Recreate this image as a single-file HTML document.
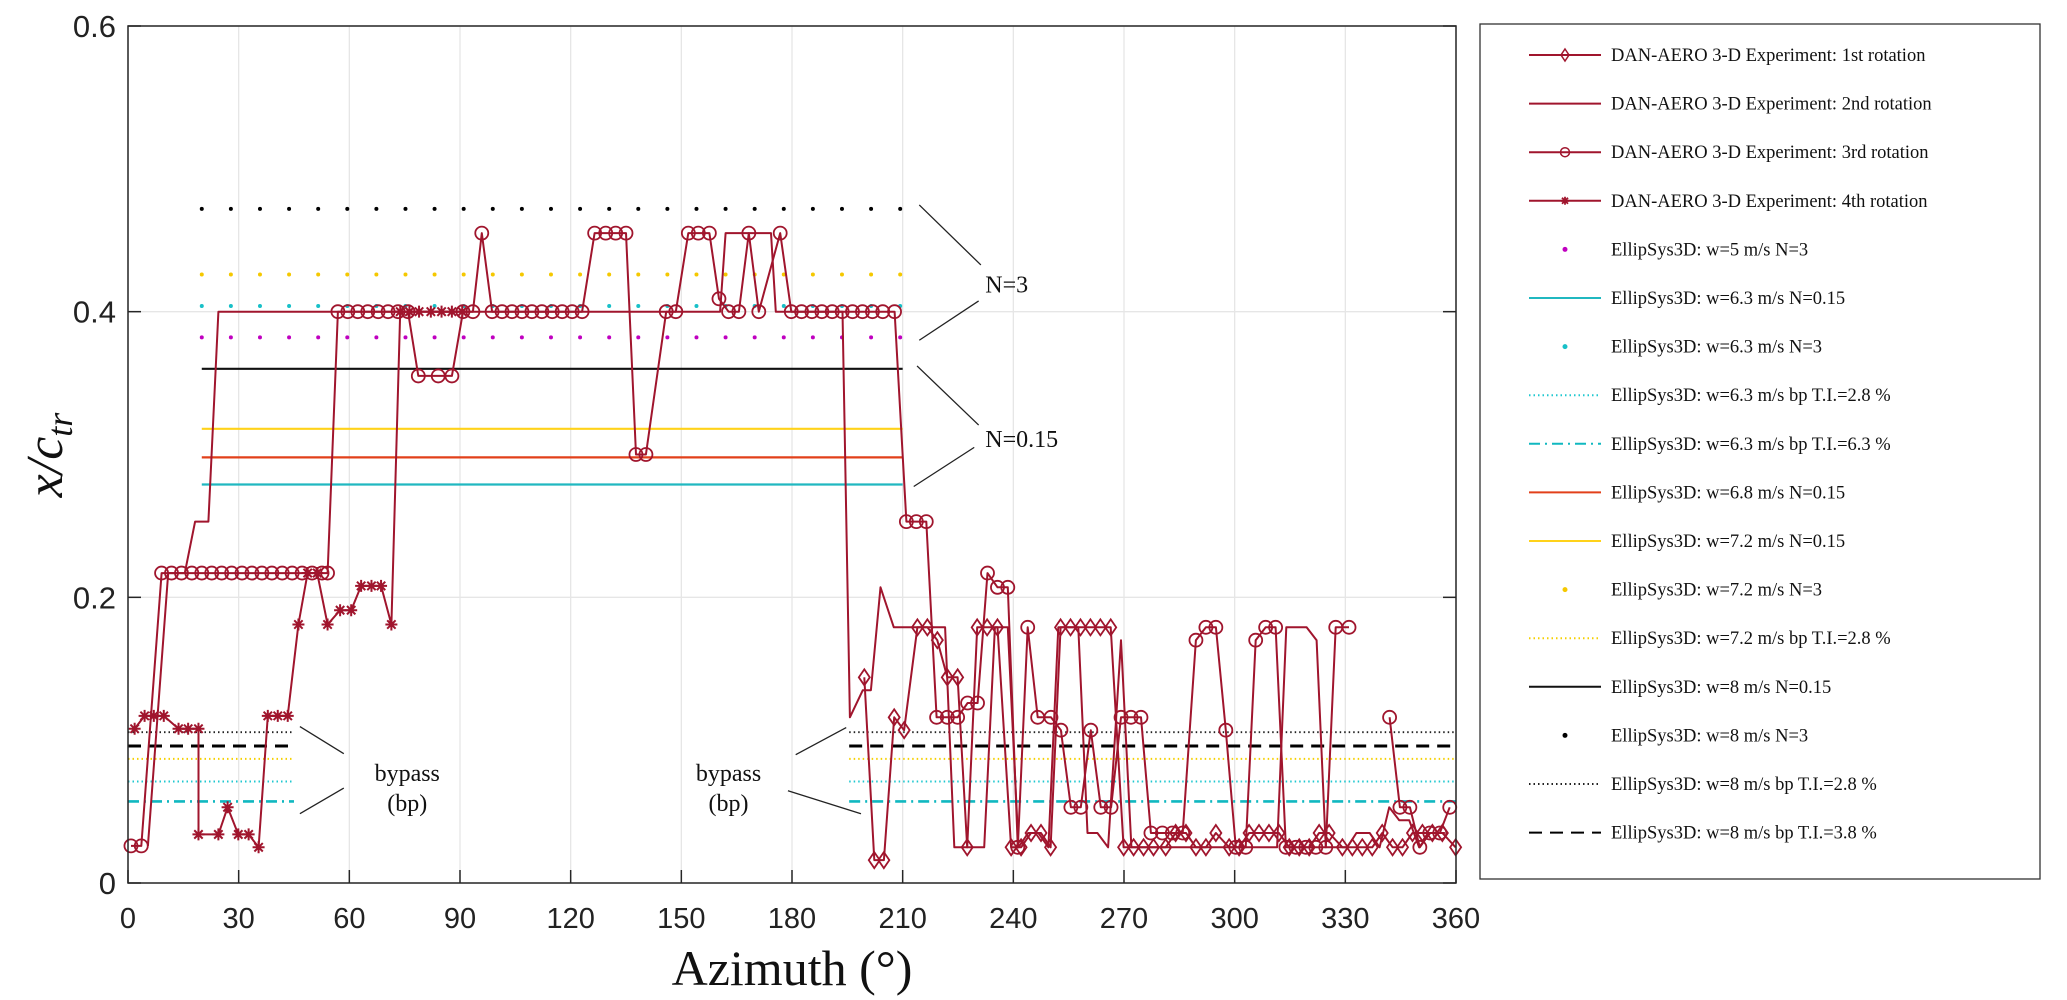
<!DOCTYPE html>
<html><head><meta charset="utf-8"><style>
body{margin:0;background:#fff;width:2067px;height:1000px;overflow:hidden}
svg{display:block}
</style></head><body>
<svg id="chart" xmlns="http://www.w3.org/2000/svg" width="2067" height="1000" viewBox="0 0 2067 1000"></svg>
<script>
// ---- data ----
const xTicks=[0,30,60,90,120,150,180,210,240,270,300,330,360];
const yTicks=[0,0.2,0.4,0.6];
const yTickLabels=["0","0.2","0.4","0.6"];
// rotation 1 (diamonds)
const r1x=[199.6,202.3,204.9,207.7,210.4,214,216.7,219.4,222.1,224.9,227.5,230.2,232.9,235.7,239.4,242.1,244.8,247.5,250.1,252.8,255.5,258.2,260.9,263.6,266.4,269.9,272.6,275.3,278,281.3,284,286.8,289.5,292.2,294.9,298.5,301.2,303.9,306.6,309.3,312,314.8,317.5,320.2,322.9,325.6,329.2,331.9,334.6,337.3,340,342.8,345.5,348.2,350.9,353.6,356.3,359.9];
const r1y=[.144,.016,.016,.116,.107,.179,.179,.170,.144,.144,.025,.179,.179,.179,.025,.025,.035,.035,.025,.179,.179,.179,.179,.179,.179,.025,.025,.025,.025,.025,.035,.035,.025,.025,.035,.025,.025,.035,.035,.035,.035,.025,.025,.025,.035,.035,.025,.025,.025,.025,.035,.025,.025,.035,.035,.035,.035,.025];
// rotation 2 (line)
const r2x=[5.4,10.9,15.4,18.2,21.8,24.5,160.5,162,174.3,175.6,193.7,195.7,199.2,201.4,204,207.6,221.5,224,232.1,235,238.5,241.4,244,246.8,249.5,252.2,257.6,260.1,262.8,265.7,269.2,272,311.5,314,319.5,322.2,324.7,330.5,333,336.6,339.3,341.9,344.6,347.3,350,353,357];
const r2y=[.026,.217,.217,.253,.253,.4,.4,.455,.455,.4,.4,.116,.135,.135,.207,.179,.179,.025,.025,.179,.179,.025,.035,.035,.025,.179,.179,.035,.035,.025,.170,.025,.025,.179,.179,.170,.025,.025,.035,.035,.025,.053,.044,.044,.025,.035,.035];
// rotation 3 (circles); null = gap
const r3x=[0.8,3.6,9.1,11.8,14.5,17.3,20,22.7,25.4,28.1,30.9,33.6,36.3,39,41.8,44.5,47.2,49.9,52.6,54.1,56.9,59.6,62.3,65,67.8,70.5,73.2,75.9,78.7,84.1,87.8,90.8,93.5,95.9,98.7,101.4,104.1,106.8,109.5,112.2,115,117.7,120.4,123.1,126.5,129.5,132.2,135,137.7,140.4,145.9,148.5,151.9,154.6,157.6,160.2,162.8,165.6,168.3,171,176.8,179.8,182.6,185.4,188.1,190.9,193.6,196.4,199.1,201.8,204.6,207.8,211,213.7,216.4,219.2,222.1,224.9,227.6,230.3,233,235.7,238.5,241.2,243.9,246.6,250.2,252.9,255.6,258.3,261,263.7,266.5,269.2,271.9,274.6,277.3,280.4,283.1,285.9,289.5,292.2,294.9,297.6,300.3,303,305.7,308.4,311.1,313.9,316.6,319.3,322,324.7,327.4,331,null,342,344.8,347.5,350.2,352.9,355.6,358.3];
const r3y=[.026,.026,.217,.217,.217,.217,.217,.217,.217,.217,.217,.217,.217,.217,.217,.217,.217,.217,.217,.217,.4,.4,.4,.4,.4,.4,.4,.4,.355,.355,.355,.4,.4,.455,.4,.4,.4,.4,.4,.4,.4,.4,.4,.4,.455,.455,.455,.455,.3,.3,.4,.4,.455,.455,.455,.409,.4,.4,.455,.4,.455,.4,.4,.4,.4,.4,.4,.4,.4,.4,.4,.4,.253,.253,.253,.116,.116,.116,.126,.126,.217,.207,.207,.025,.179,.116,.116,.107,.053,.053,.107,.053,.053,.116,.116,.116,.035,.035,.035,.035,.170,.179,.179,.107,.025,.025,.170,.179,.179,.025,.025,.025,.025,.025,.179,.179,null,.116,.053,.053,.025,.035,.035,.053];
// rotation 4 (stars)
const r4x=[1.8,4.5,7,9.7,13.7,16.3,19.1,19.1,24.5,27,29.9,32.7,35.4,37.9,40.6,43.3,46.2,48.7,51.3,54.1,57.5,60.5,63.2,66,68.6,71.4,73.8,76.3,78.9,82.1,85,87.8,90.6];
const r4y=[.108,.117,.117,.117,.108,.108,.108,.034,.034,.053,.034,.034,.025,.117,.117,.117,.181,.217,.217,.181,.191,.191,.208,.208,.208,.181,.4,.4,.4,.4,.4,.4,.4];
// EllipSys3D reference levels
const n3Levels=[0.472,0.426,0.404,0.382];
const n3Colors=["#000000","#f5c800","#18c0c8","#c000c0"];
const n3Names=["w8-n3-line","w72-n3-line","w63-n3-line","w5-n3-line"];
const n015Levels=[0.360,0.318,0.298,0.279];
const n015Colors=["#111111","#ffd21a","#e2401a","#20b8c0"];
const n015Names=["w8-n015-line","w72-n015-line","w68-n015-line","w63-n015-line"];
const bpLevels=[0.1056,0.0959,0.0869,0.0711,0.0571];
const bpColors=["#222222","#000000","#f5d000","#20c8d0","#10b8c0"];
const bpDash=["1.5 3","13 8","1.5 3","1.5 3","11 5 2 5"];
const bpWidth=[1.8,3,2,2,2.6];
const bpNames=["w8-bp28-line","w8-bp38-line","w72-bp28-line","w63-bp28-line","w63-bp63-line"];

const NS="http://www.w3.org/2000/svg";
const svg=document.getElementById('chart');
const L=128,R=1456,T=26,B=883;
const X=d=>L+(d/360)*(R-L);
const Y=v=>B-(v/0.6)*(B-T);
function mk(tag,attrs,parent){const e=document.createElementNS(NS,tag);for(const k in attrs)e.setAttribute(k,attrs[k]);(parent||svg).appendChild(e);return e;}

// grid
const grid=mk('g',{});


xTicks.forEach(t=>{const l=mk('line',{x1:X(t),x2:X(t),y1:T,y2:B,stroke:'#e6e6e6','stroke-width':1.3},grid);

});
yTicks.forEach(t=>{const l=mk('line',{x1:L,x2:R,y1:Y(t),y2:Y(t),stroke:'#e6e6e6','stroke-width':1.3},grid);

});

// reference lines
const ref=mk('g',{});


n015Levels.forEach((v,i)=>{const l=mk('line',{x1:X(20),x2:X(210),y1:Y(v),y2:Y(v),stroke:n015Colors[i],'stroke-width':2.2},ref);

});
n3Levels.forEach((v,i)=>{const l=mk('line',{x1:X(20),x2:X(210),y1:Y(v),y2:Y(v),stroke:n3Colors[i],'stroke-width':4,'stroke-linecap':'round','stroke-dasharray':'0 29.1'},ref);

});
bpLevels.forEach((v,i)=>{
 [[0,45],[195.5,360]].forEach(s=>{const l=mk('line',{x1:X(s[0]),x2:X(s[1]),y1:Y(v),y2:Y(v),stroke:bpColors[i],'stroke-width':bpWidth[i],'stroke-dasharray':bpDash[i]},ref);
 
 });
});

// annotations
const ann=mk('g',{stroke:'#222','stroke-width':1.3});


const annLines=[[46.6,.1095,58.5,.0905],[46.6,.0485,58.5,.0665],[181,.0898,194.7,.1088],[178.9,.0646,198.7,.0485],[214.5,.4747,231.2,.4327],[214.5,.38,230.6,.4075],[213.9,.362,230.6,.3206],[213,.2776,229.4,.305]];
annLines.forEach(a=>{const l=mk('line',{x1:X(a[0]),y1:Y(a[1]),x2:X(a[2]),y2:Y(a[3])},ann);

});
function txt(s,x,y,size,name,extra){const t=mk('text',Object.assign({x:x,y:y,'font-family':'"Liberation Serif",serif','font-size':size,fill:'#111'},extra||{}));t.textContent=s;

return t;}
txt('bypass',X(75.7),Y(0.077)+8,24,'bypass-label-left',{'text-anchor':'middle'});
txt('(bp)',X(75.7),Y(0.056)+8,24,'bp-label-left',{'text-anchor':'middle'});
txt('bypass',X(162.8),Y(0.077)+8,24,'bypass-label-right',{'text-anchor':'middle'});
txt('(bp)',X(162.8),Y(0.056)+8,24,'bp-label-right',{'text-anchor':'middle'});
txt('N=3',X(232.4),Y(0.419)+8,24,'n3-label');
txt('N=0.15',X(232.4),Y(0.311)+8,24,'n015-label');

// experimental series
const RED='#a0152d';
function series(xs,ys,name,marker){
 const g=mk('g',{});
 
 
 let d='',pen=false;
 xs.forEach((x,i)=>{if(x===null||ys[i]===null){pen=false;return;}d+=(pen?'L':'M')+X(x).toFixed(1)+' '+Y(ys[i]).toFixed(1);pen=true;});
 const p=mk('path',{d:d,fill:'none',stroke:RED,'stroke-width':2,'stroke-linejoin':'round'},g);
 
 
 if(!marker)return;
 xs.forEach((x,i)=>{if(x===null)return;const cx=X(x),cy=Y(ys[i]);let m;
  if(marker==='d')m=mk('path',{d:`M${cx} ${cy-8}L${cx+5.5} ${cy}L${cx} ${cy+8}L${cx-5.5} ${cy}Z`,fill:'none',stroke:RED,'stroke-width':1.8},g);
  else if(marker==='o')m=mk('circle',{cx:cx,cy:cy,r:6.5,fill:'none',stroke:RED,'stroke-width':1.8},g);
  else m=mk('path',{d:`M${cx-6} ${cy}H${cx+6}M${cx} ${cy-6}V${cy+6}M${cx-4.2} ${cy-4.2}L${cx+4.2} ${cy+4.2}M${cx-4.2} ${cy+4.2}L${cx+4.2} ${cy-4.2}`,stroke:RED,'stroke-width':2},g);
  
  });
}
series(r2x,r2y,'rotation-2',null);
series(r1x,r1y,'rotation-1','d');
series(r3x,r3y,'rotation-3','o');
series(r4x,r4y,'rotation-4','s');

// axes box
const ax=mk('rect',{x:L,y:T,width:R-L,height:B-T,fill:'none',stroke:'#262626','stroke-width':1.5});


xTicks.forEach(t=>{const l=mk('line',{x1:X(t),x2:X(t),y1:B,y2:B-13,stroke:'#262626','stroke-width':1.5});


const tl=mk('text',{x:X(t),y:928,'text-anchor':'middle','font-family':'"Liberation Sans",sans-serif','font-size':29,fill:'#222'});tl.textContent=String(t);

});
yTicks.forEach((t,i)=>{[[L,L+13],[R,R-13]].forEach(s=>{const l=mk('line',{x1:s[0],x2:s[1],y1:Y(t),y2:Y(t),stroke:'#262626','stroke-width':1.5});

});
const tl=mk('text',{x:116,y:Y(t)+11,'text-anchor':'end','font-family':'"Liberation Sans",sans-serif','font-size':31,fill:'#222'});tl.textContent=yTickLabels[i];

});
txt('Azimuth (°)',792,985,50,'x-axis-title',{'text-anchor':'middle'});
const yt=mk('text',{transform:'translate(62 455) rotate(-90)','text-anchor':'middle','font-family':'"Liberation Serif",serif','font-size':52,'font-style':'italic',fill:'#111'});
yt.innerHTML='x/c<tspan font-size="36" dy="10">tr</tspan>';



// legend
const lg=mk('g',{});


const lb=mk('rect',{x:1480,y:24,width:560,height:855,fill:'#fff',stroke:'#333','stroke-width':1.3},lg);


const legLabels=["DAN-AERO 3-D Experiment:  1st rotation","DAN-AERO 3-D Experiment:  2nd rotation","DAN-AERO 3-D Experiment:  3rd rotation","DAN-AERO 3-D Experiment:  4th rotation","EllipSys3D: w=5 m/s N=3","EllipSys3D: w=6.3 m/s N=0.15","EllipSys3D: w=6.3 m/s N=3","EllipSys3D: w=6.3 m/s bp T.I.=2.8 %","EllipSys3D: w=6.3 m/s bp T.I.=6.3 %","EllipSys3D: w=6.8 m/s N=0.15","EllipSys3D: w=7.2 m/s N=0.15","EllipSys3D: w=7.2 m/s N=3","EllipSys3D: w=7.2 m/s bp T.I.=2.8 %","EllipSys3D: w=8 m/s N=0.15","EllipSys3D: w=8 m/s N=3","EllipSys3D: w=8 m/s bp T.I.=2.8 %","EllipSys3D: w=8 m/s bp T.I.=3.8 %"];
const legColor=[RED,RED,RED,RED,"#c000c0","#20b8c0","#18c0c8","#20c8d0","#10b8c0","#e2401a","#ffd21a","#f5c800","#f5d000","#111","#000","#222","#000"];
const legStyle=["m-d","line","m-o","m-s","dot","line","dot","1.5 3","11 5 2 5","line","line","dot","1.5 3","line","dot","1.5 3","13 8"];
legLabels.forEach((s,i)=>{
 const y=55+i*48.6;
 const e=mk('g',{},lg);
 
 
 const st=legStyle[i];
 if(st==='dot'){mk('circle',{cx:1565,cy:y,r:2.5,fill:legColor[i]},e);}
 else{mk('line',{x1:1529,x2:1601,y1:y,y2:y,stroke:legColor[i],'stroke-width':2,'stroke-dasharray':(st==='line'||st.startsWith('m-'))?'none':st},e);
  if(st==='m-d')mk('path',{d:`M1565 ${y-6}L1569 ${y}L1565 ${y+6}L1561 ${y}Z`,fill:'none',stroke:RED,'stroke-width':1.5},e);
  if(st==='m-o')mk('circle',{cx:1565,cy:y,r:4.5,fill:'none',stroke:RED,'stroke-width':1.5},e);
  if(st==='m-s')mk('path',{d:`M1561 ${y}H1569M1565 ${y-4}V${y+4}M1562 ${y-3}L1568 ${y+3}M1562 ${y+3}L1568 ${y-3}`,stroke:RED,'stroke-width':1.8},e);}
 const t=mk('text',{x:1611,y:y+6,'font-family':'"Liberation Serif",serif','font-size':18.5,fill:'#111','xml:space':'preserve'},e);
 t.textContent=s;
 
 
});
</script>
</body></html>
